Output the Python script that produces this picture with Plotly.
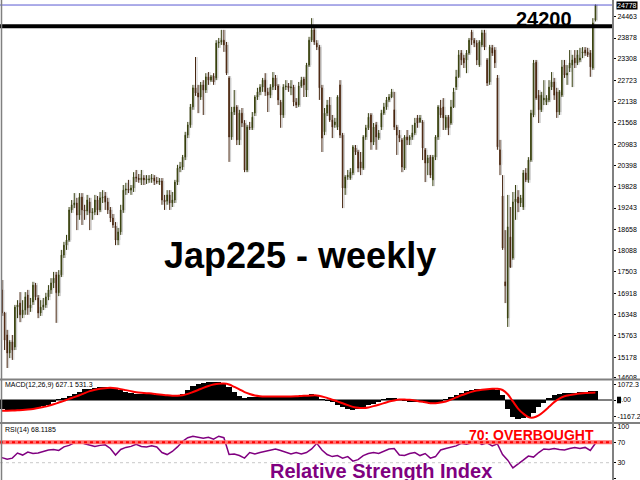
import plotly.graph_objects as go

# ---------------- data (weekly candles) ----------------
opens = [17010,16380,15780,15290,15590,15450,16540,16650,16330,16460,16870,16520,16680,17140,16790,16380,16540,16600,16820,17010,
 17200,17420,16930,17420,17960,18230,18370,19190,19330,19380,19050,19540,19190,19160,19410,19110,19130,19460,19190,19520,
 19570,19410,19190,18970,18750,18370,18590,19190,19730,19760,19730,19790,20090,20060,20010,20060,20010,20010,20030,20060,19980,19950,
 19980,19460,19430,19600,19380,19460,19950,20330,20360,20630,21230,21510,22000,22520,22380,22270,22600,22460,22820,22730,22840,
 22790,23740,23770,23820,23690,22790,21180,21860,22000,21100,21830,21560,20280,21450,21430,21830,22270,22410,22540,22730,
 22410,22320,22540,22790,22570,22130,21780,22540,22570,22520,22540,22130,22050,22570,22760,22460,23140,23820,24100,23740,23630,
 22520,21320,21830,22050,21640,21510,21450,22600,21230,19790,20090,20060,20200,20880,20770,20500,20330,21180,21430,
 21780,21040,21510,21150,21450,21830,22000,22190,22270,21920,21450,21230,21100,20330,21180,21100,21180,21290,21700,
 21590,21590,20830,20470,20630,20010,20630,21180,21970,22000,21430,21720,21560,22000,22540,22820,23470,23330,23280,23470,24040,23820,
 23740,23140,23690,24020,23280,22680,23610,23550,22790,20830,19570,17230,16240,18450,17880,19410,19540,19380,19270,20200,
 20010,20550,21780,23220,22320,21920,22190,22130,22190,22540,22680,22410,21860,22320,23140,22870,23060,23140,23330,23200,
 23280,23470,23550,23500,23470,23060,24370]
highs = [17280,16410,15920,15640,15780,16600,16730,16950,16730,16950,17010,16790,17230,17200,16870,16730,16790,16930,17140,17330,
 17500,17500,17550,18100,18320,18510,19270,19460,19650,19520,19650,19650,19330,19600,19520,19240,19600,19570,19680,19730,
 19680,19520,19270,19080,18860,18700,19330,19870,19930,20010,19870,20220,20280,20170,20280,20140,20140,20140,20170,20140,20090,20060,
 20060,19600,19730,19730,19680,20010,20420,20500,20690,21320,21590,22080,22600,23360,22600,22680,22730,22920,22950,22870,22920,
 23820,23880,24100,24100,23770,22840,22000,22460,22050,21920,21970,21640,21510,21590,21860,22320,22520,22620,22790,22920,
 22520,22620,22950,22870,22620,22190,22620,22730,22650,22730,22600,22240,22680,22820,22820,23200,23910,24420,24150,23820,23690,
 22600,21970,22190,22270,21780,21700,22320,22730,21290,20140,20280,20330,20960,20960,20830,20770,21230,21510,21830,
 21830,21560,21590,21370,21920,22110,22270,22350,22490,22410,21510,21370,21150,21230,21370,21230,21510,21700,21780,
 21780,21640,20880,20690,20690,20690,21230,22050,22190,22240,21780,21780,22190,22520,23010,23550,23550,23420,23550,23880,24100,23880,
 23820,23820,24100,24100,23330,23690,23690,23630,22870,21100,20140,18640,19600,19270,19680,19870,19730,19600,20280,20330,
 20630,21920,23280,23280,22460,22410,22730,22320,22730,22950,22790,22520,22460,23280,23280,23140,23550,23420,23550,23550,
 23610,23630,23630,23610,23550,24420,24790]
lows = [16300,15370,14880,15150,15100,15370,16240,16130,16240,16330,16330,16410,16600,16730,16240,16300,16460,16520,16730,16900,
 17060,16110,16840,17360,17880,18100,18320,19110,19240,18640,18920,18780,18920,19050,18640,18920,19050,19050,19130,19380,
 19190,19080,18860,18700,18230,18230,18510,19110,19600,19650,19600,19680,19950,19930,19870,19870,19900,19930,19930,19870,19900,19870,
 19330,19190,19330,19190,19270,19380,19870,20220,20280,20550,21150,21430,21920,22300,21830,22190,21780,22380,22600,22680,22600,
 22730,23610,23690,23500,22870,20500,21100,21780,20960,20960,21450,20220,20220,21370,21370,21750,22190,22320,22410,22300,
 21860,22240,22460,22460,22050,21430,21700,22460,22410,22320,22020,21970,22000,22520,22270,22270,23090,23770,23690,23550,22190,
 20770,21230,21750,21590,21150,21430,21370,21150,19240,19600,20010,20010,20140,20690,20220,20140,20280,21100,21370,
 20830,20960,20830,21100,21370,21780,21920,22130,22240,21370,20690,21040,20220,20280,20960,20960,21100,21230,21430,
 21560,20550,19950,20140,20060,19840,20550,21100,21700,21370,21370,21230,21510,21970,22460,22790,23140,23060,22920,23420,23690,23630,
 23140,23090,23630,23550,22570,22600,23390,23060,20830,20140,18100,16650,16000,17610,17830,18920,19130,19270,19190,19950,
 19930,20500,21720,22190,21560,21860,22050,22050,22130,22460,22190,21700,21780,22270,22790,22600,22950,22540,23060,23140,
 23220,23330,23390,23360,22820,23010,24330]
closes = [16380,15640,15290,15590,15370,16540,16600,16330,16460,16820,16520,16600,17140,16820,16380,16540,16600,16820,17010,17200,
 17330,16930,17420,17960,18230,18370,19190,19330,19380,19050,19540,19190,19160,19460,19110,19130,19460,19190,19520,19540,
 19410,19190,18970,18780,18370,18590,19190,19730,19760,19730,19790,20090,20060,20010,20060,20010,20040,20030,20060,19980,19950,19980,
 19460,19410,19600,19380,19460,19950,20330,20360,20630,21230,21510,22000,22520,22380,22270,22600,22460,22820,22730,22820,22680,
 23740,23770,23820,23690,22920,21180,21860,22000,21100,21830,21560,20280,21450,21430,21720,22270,22410,22540,22730,22410,
 22320,22540,22790,22570,22190,21780,22540,22570,22520,22540,22130,22050,22570,22730,22600,23140,23820,24100,23770,23630,22520,
 21150,21830,22050,21640,21450,21590,22270,21230,19790,20090,20140,20220,20910,20770,20330,20330,21180,21430,21720,
 21040,21450,21180,21290,21830,22000,22190,22270,22410,21450,21230,21150,20360,21180,21100,21180,21290,21560,21560,
 21700,20880,20470,20610,20140,20630,21180,22000,21780,21700,21720,21430,22000,22410,22820,23420,23280,23200,23470,23820,23820,23740,
 23280,23770,24020,23630,22650,23630,23470,23200,20910,20420,18150,17120,18730,17630,19410,19490,19380,19520,20200,20010,
 20550,21830,23200,22240,21920,22320,22240,22240,22540,22680,22320,21860,22410,23090,22870,22920,23200,23280,23200,23420,
 23330,23500,23470,23420,23090,24290,24778]

# indicator values, one reading every second week
macd_main = [-650,-680,-700,-700,-690,-660,-620,-540,-450,-340,-120,50,150,300,430,570,750,800,850,880,
 900,860,800,680,590,500,450,450,450,420,380,320,280,250,300,450,700,950,1100,1200,
 1260,1280,1280,1180,900,560,300,150,200,230,250,270,280,270,250,250,250,300,350,380,
 400,300,50,-50,-150,-350,-500,-650,-700,-630,-500,-380,-270,-100,50,150,120,50,-20,-80,
 -100,-120,-200,-300,-250,-80,30,180,330,480,620,720,770,780,780,770,730,350,-600,-1200,
 -1300,-1280,-1180,-880,-500,-180,100,320,420,460,490,520,560,590,600,627.1]
macd_signal = [-750,-750,-740,-720,-700,-670,-630,-560,-490,-410,-300,-180,-60,80,200,330,480,620,720,790,
 830,850,820,760,690,620,550,510,480,450,410,370,330,300,300,340,430,560,700,850,
 980,1080,1140,1150,1080,920,750,550,420,320,270,250,250,250,250,250,250,260,280,300,
 320,320,250,150,20,-100,-230,-360,-480,-550,-560,-520,-430,-330,-220,-110,-30,30,40,10,
 -40,-100,-160,-220,-230,-180,-100,30,180,330,460,570,660,720,760,780,780,700,400,-100,
 -600,-950,-1200,-1230,-1080,-800,-480,-150,100,260,340,400,450,490,515,531.3]
rsi = [40,37,39,49,45,51,48,49,52,55,56,54,61,64,69,71,67,65,62,64,
 65,58,45,56,60,62,66,62,61,63,61,50,46,52,61,72,79,82,80,78,
 80,76,82,79,46,47,44,39,50,47,50,52,55,57,54,50,47,50,47,50,
 57,68,55,46,42,44,39,42,33,36,44,48,50,48,52,57,58,45,44,48,
 50,44,48,39,42,55,58,61,63,68,66,69,71,66,69,63,67,46,35,20,
 27,35,43,41,50,57,56,58,56,55,58,60,58,60,54,68.1185]

price_ticks = [24463,23878,23308,22723,22138,21568,20983,20398,19828,19243,18658,18088,17503,16918,16348,15763,15178,14608]
macd_ticks = [1072.3, 0, -1167.2]
rsi_ticks = [100, 70, 30, 0]
last_price = 24778
resistance = 24200
overbought = 70
oversold = 30

# ---------------- figure ----------------
W, H = 640, 480
XR = 613 / W
n = len(closes)
idx = list(range(n))
idx2 = [2 * k for k in range(len(rsi))]
FONT = "Liberation Sans"

fig = go.Figure()

# soft grey drop shadow of the candles (style copy, shifted right)
fig.add_trace(go.Candlestick(
    x=[i + 0.6 for i in idx], open=opens, high=highs, low=lows, close=closes,
    increasing=dict(line=dict(color="#cccccc", width=1), fillcolor="#cccccc"),
    decreasing=dict(line=dict(color="#cccccc", width=1), fillcolor="#cccccc"),
    whiskerwidth=0, xaxis="x", yaxis="y", showlegend=False, hoverinfo="skip"))

fig.add_trace(go.Candlestick(
    x=idx, open=opens, high=highs, low=lows, close=closes,
    increasing=dict(line=dict(color="#353d0c", width=1), fillcolor="#86982a"),
    decreasing=dict(line=dict(color="#45240e", width=1), fillcolor="#c05a24"),
    whiskerwidth=0, xaxis="x", yaxis="y", showlegend=False, hoverinfo="skip"))

fig.add_trace(go.Bar(x=idx2, y=macd_main, width=2, marker=dict(color="black", line=dict(width=0)),
                     xaxis="x2", yaxis="y2", showlegend=False, hoverinfo="skip"))
fig.add_trace(go.Scatter(x=idx2, y=macd_signal, mode="lines", line=dict(color="#ff0000", width=2, shape="spline", smoothing=0.8),
                         xaxis="x2", yaxis="y2", showlegend=False, hoverinfo="skip"))
fig.add_trace(go.Scatter(x=idx2, y=rsi, mode="lines", line=dict(color="#800080", width=1.5),
                         xaxis="x3", yaxis="y3", showlegend=False, hoverinfo="skip"))

xr = [-0.775, 236.8]
common_x = dict(range=xr, domain=[0, XR], showgrid=False, zeroline=False, showticklabels=False,
                ticks="", showline=False, fixedrange=True)
axfont = dict(family=FONT, size=7, color="black")
common_y = dict(side="right", showgrid=False, zeroline=False, ticks="outside", ticklen=2,
                tickcolor="black", tickfont=axfont, showline=False, fixedrange=True, automargin=False)

fig.update_layout(
    width=W, height=H, margin=dict(l=0, r=0, t=0, b=0, pad=0),
    paper_bgcolor="white", plot_bgcolor="white",
    xaxis=dict(**common_x, anchor="y", rangeslider=dict(visible=False)),
    xaxis2=dict(**common_x, anchor="y2", matches="x"),
    xaxis3=dict(**common_x, anchor="y3", matches="x"),
    yaxis=dict(**common_y, domain=[1 - 379 / H, 1], range=[14580, 24915], anchor="x",
               tickvals=price_ticks, ticktext=[str(v) for v in price_ticks]),
    yaxis2=dict(**common_y, domain=[1 - 422 / H, 1 - 380 / H], range=[-1540, 1400], anchor="x2",
                tickvals=macd_ticks, ticktext=["1072.3", "0.00", "-1167.2"]),
    yaxis3=dict(**common_y, domain=[0, 1 - 424 / H], range=[-3.9, 105.9], anchor="x3",
                tickvals=rsi_ticks, ticktext=[str(v) for v in rsi_ticks]),
    bargap=0, boxgap=0.15, showlegend=False,
)

shapes = []
shapes.append(dict(type="line", xref="paper", yref="y", x0=0, x1=XR, y0=last_price, y1=last_price,
                   line=dict(color="#5a5ad2", width=1)))
shapes.append(dict(type="line", xref="paper", yref="y", x0=0, x1=XR, y0=resistance, y1=resistance,
                   line=dict(color="black", width=4)))
shapes.append(dict(type="line", xref="paper", yref="y2", x0=0, x1=XR, y0=0, y1=0, layer="below",
                   line=dict(color="black", width=1)))
shapes.append(dict(type="line", xref="paper", yref="y3", x0=0, x1=XR, y0=overbought, y1=overbought,
                   line=dict(color="#ff7070", width=4)))
shapes.append(dict(type="line", xref="paper", yref="y3", x0=0, x1=XR, y0=overbought, y1=overbought,
                   line=dict(color="#ff0000", width=2, dash="dot")))
shapes.append(dict(type="line", xref="paper", yref="y3", x0=0, x1=XR, y0=oversold, y1=oversold,
                   line=dict(color="#c8c8c8", width=1, dash="dot")))
g = "#808080"
shapes.append(dict(type="line", xref="paper", yref="paper", x0=XR, x1=XR, y0=0, y1=1, line=dict(color=g, width=2)))
shapes.append(dict(type="line", xref="paper", yref="paper", x0=1.5 / W, x1=1.5 / W, y0=0, y1=1, line=dict(color=g, width=1.5)))
for yy in (379.5, 423):
    shapes.append(dict(type="line", xref="paper", yref="paper", x0=0, x1=1, y0=1 - yy / H, y1=1 - yy / H,
                       line=dict(color=g, width=2)))
shapes.append(dict(type="rect", xref="paper", yref="y2", x0=617 / W, x1=621 / W, y0=-230, y1=230,
                   fillcolor="black", line=dict(width=0)))
fig.update_layout(shapes=shapes)

ann = []
ann.append(dict(text="24778", xref="paper", yref="y", x=616 / W, y=last_price, xanchor="left", yanchor="middle",
                showarrow=False, bgcolor="black", font=dict(family=FONT, size=7, color="white"), borderpad=0))
ann.append(dict(text="<b>24200</b>", xref="paper", yref="paper", x=544 / W, y=1 - 18.5 / H, xanchor="center",
                yanchor="middle", showarrow=False, font=dict(family=FONT, size=20, color="black")))
ann.append(dict(text="<b>Jap225 - weekly</b>", xref="paper", yref="paper", x=300 / W, y=1 - 255 / H,
                xanchor="center", yanchor="middle", showarrow=False, font=dict(family=FONT, size=36, color="black")))
ann.append(dict(text="MACD(12,26,9) 627.1 531.3", xref="paper", yref="paper", x=3 / W, y=1 - 385 / H,
                xanchor="left", yanchor="middle", showarrow=False, font=dict(family=FONT, size=7, color="black")))
ann.append(dict(text="RSI(14) 68.1185", xref="paper", yref="paper", x=3 / W, y=1 - 430 / H,
                xanchor="left", yanchor="middle", showarrow=False, font=dict(family=FONT, size=7, color="black")))
ann.append(dict(text="<b>70: OVERBOUGHT</b>", xref="paper", yref="paper", x=531 / W, y=1 - 435 / H,
                xanchor="center", yanchor="middle", showarrow=False, font=dict(family=FONT, size=14, color="#ff0000")))
ann.append(dict(text="<b>Relative Strength Index</b>", xref="paper", yref="paper", x=381 / W, y=1 - 471 / H,
                xanchor="center", yanchor="middle", showarrow=False, font=dict(family=FONT, size=20, color="#800080")))
fig.update_layout(annotations=ann)

fig.write_html("out.html", config={"displayModeBar": False},
               post_script="document.body.style.margin='0';document.body.style.padding='0';document.body.style.overflow='hidden';")
